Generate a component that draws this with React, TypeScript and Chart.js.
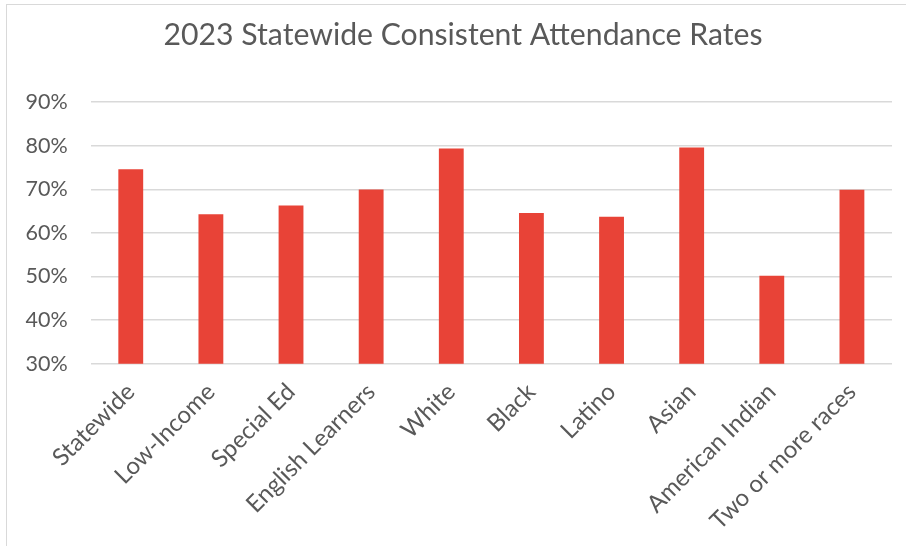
import React, { useEffect, useRef } from "react";
import { Chart, registerables } from "chart.js";

Chart.register(...registerables);

const categories = [
  "Statewide",
  "Low-Income",
  "Special Ed",
  "English Learners",
  "White",
  "Black",
  "Latino",
  "Asian",
  "American Indian",
  "Two or more races",
];
const rates = [74.6, 64.3, 66.3, 70.0, 79.4, 64.6, 63.7, 79.6, 50.2, 69.9];
const yTicks = [30, 40, 50, 60, 70, 80, 90];
const titleText = "2023 Statewide Consistent Attendance Rates";

const titleShift = {
  id: "titleShift",
  afterLayout(chart: any) {
    if (chart.titleBlock) {
      chart.titleBlock.left = 34;
    }
  },
};

export default function App() {
  const ref = useRef<HTMLCanvasElement | null>(null);
  useEffect(() => {
    document.body.style.margin = "0";
    const ctx = ref.current!;
    const chart = new Chart(ctx, {
      type: "bar",
      data: {
        labels: categories,
        datasets: [
          {
            data: rates,
            backgroundColor: "#E84337",
            borderWidth: 0,
            barPercentage: 0.31,
            categoryPercentage: 1,
          },
        ],
      },
      plugins: [titleShift],
      options: {
        responsive: false,
        animation: false,
        layout: { padding: { left: 0, right: 14, top: 0, bottom: 0 } },
        plugins: {
          legend: { display: false },
          tooltip: { enabled: false },
          title: {
            display: true,
            text: titleText,
            color: "#595959",
            font: { family: "Lato", size: 30.2, weight: "normal" },
            padding: { top: 17, bottom: 49 },
          },
        },
        scales: {
          x: {
            grid: { display: false, drawTicks: false },
            border: { display: false },
            ticks: {
              color: "#595959",
              font: { family: "Lato", size: 24 },
              minRotation: 45,
              maxRotation: 45,
              padding: 14,
              autoSkip: false,
            },
            afterFit: (s: any) => {
              s.height = 182.3;
            },
          },
          y: {
            min: 30,
            max: 90,
            afterBuildTicks: (s: any) => {
              s.ticks = yTicks.map((v) => ({ value: v }));
            },
            grid: { color: "#D9D9D9", lineWidth: 1.5, drawTicks: false },
            border: { display: false },
            ticks: {
              color: "#595959",
              font: { family: "Lato", size: 21.5 },
              padding: 23,
              callback: (v: any) => v + "%",
            },
            afterFit: (s: any) => {
              s.width = 90.7;
            },
          },
        },
      },
    });
    return () => chart.destroy();
  }, []);
  return (
    <div style={{ position: "fixed", left: 0, top: 0, width: 906, height: 546, background: "#fff", overflow: "hidden" }}>
      <div
        style={{
          position: "absolute",
          left: 6,
          top: 4,
          width: 920,
          height: 560,
          borderTop: "1px solid #D9D9D9",
          borderLeft: "1px solid #D9D9D9",
        }}
      />
      <canvas ref={ref} width={906} height={546} style={{ position: "absolute", left: 0, top: 0 }} />
    </div>
  );
}
